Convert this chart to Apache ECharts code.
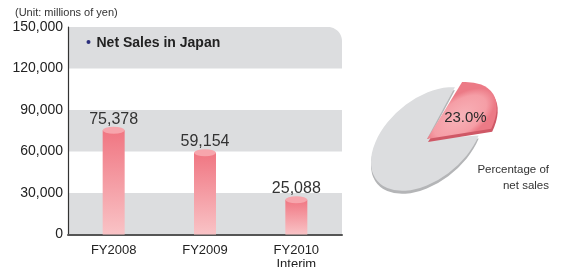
<!DOCTYPE html>
<html>
<head>
<meta charset="utf-8">
<script src="https://cdn.jsdelivr.net/npm/echarts@6/dist/echarts.min.js"></script>
<style>
html, body { margin: 0; padding: 0; background: #fff; }
#main { width: 561px; height: 267px; }
</style>
</head>
<body>
<div id="main"></div>
<script>
var categories = ['FY2008', 'FY2009', 'FY2010\nInterim'];
var salesJapan = [75378, 59154, 25088];
var yTicks = [0, 30000, 60000, 90000, 120000, 150000];
var pieNames = ['Other', 'Japan'];
var pieShares = [77.0, 23.0];

var FONT = '"Liberation Sans", Arial, sans-serif';

// pie geometry (tilted ellipse); the Japan slice is raised so it uses its own frame
var pieCx = 427, pieCy = 139;
var pieStart = 50 * Math.PI / 180;
var baseFrame = { r: 65, flat: 40 / 65, tilt: 40 * Math.PI / 180, shift: 0 };
var hotFrame = { r: 80, flat: 41.5 / 80, tilt: 35 * Math.PI / 180, shift: -7 * Math.PI / 180 };

function fmt(v) {
    return String(v).replace(/\B(?=(\d{3})+(?!\d))/g, ',');
}

// white mask for rounded top-right corner of plot area
function cornerMask(x, y, rad) {
    var pts = [[x - rad, y - 1], [x + 1, y - 1], [x + 1, y + rad]];
    for (var k = 0; k <= 12; k++) {
        var a = -k / 12 * Math.PI / 2;
        pts.push([x - rad + Math.cos(a) * rad, y + rad + Math.sin(a) * rad]);
    }
    return pts;
}

function renderPie(params, api) {
    var idx = params.dataIndex;
    var total = 0, acc = 0;
    for (var i = 0; i < pieShares.length; i++) {
        total += pieShares[i];
        if (i < idx) acc += pieShares[i];
    }
    var hot = pieNames[idx] === 'Japan';
    var f = hot ? hotFrame : baseFrame;
    var a0 = pieStart + acc / total * Math.PI * 2 + f.shift;
    var a1 = a0 + pieShares[idx] / total * Math.PI * 2;

    function layer(dx, dy, fill) {
        return {
            type: 'group',
            x: pieCx + dx, y: pieCy + dy,
            rotation: f.tilt, scaleY: f.flat,
            children: [{
                type: 'sector',
                shape: { cx: 0, cy: 0, r0: 0, r: f.r, startAngle: a0, endAngle: a1, clockwise: true },
                style: { fill: fill }
            }]
        };
    }

    var kids = [];
    if (hot) {
        kids.push(layer(1, 3, '#cf5866'));
        kids.push(layer(0, 0, new echarts.graphic.RadialGradient(0.5, 0.5, 0.5, [
            { offset: 0, color: '#f8b2b8' },
            { offset: 0.75, color: '#f59ea6' },
            { offset: 1, color: '#ec7a86' }
        ])));
        var m = (a0 + a1) / 2;
        var lx = Math.cos(m) * f.r * 0.55, ly = Math.sin(m) * f.r * 0.55 * f.flat;
        var sx = pieCx + lx * Math.cos(f.tilt) + ly * Math.sin(f.tilt);
        var sy = pieCy - lx * Math.sin(f.tilt) + ly * Math.cos(f.tilt);
        kids.push({
            type: 'text', x: sx + 2, y: sy + 4,
            style: {
                text: pieShares[idx].toFixed(1) + '%',
                fontSize: 15, fontFamily: FONT, fill: '#2a2a2a',
                textAlign: 'center', textVerticalAlign: 'middle'
            }
        });
    } else {
        kids.push(layer(0, 3, '#b4b5b7'));
        kids.push(layer(0, 0, '#dcdddf'));
    }
    return { type: 'group', children: kids };
}

var chart = echarts.init(document.getElementById('main'));
var option = {
    animation: false,
    textStyle: { fontFamily: FONT },
    title: [{
        text: '(Unit: millions of yen)',
        left: 15, top: 7, padding: 0,
        textStyle: { fontSize: 11, fontWeight: 'normal', color: '#333', fontFamily: FONT }
    }],
    grid: { left: 68, right: 219, top: 27, bottom: 32.5, containLabel: false, outerBoundsMode: 'none' },
    xAxis: {
        type: 'category',
        data: categories,
        axisLine: { show: true, lineStyle: { color: '#555', width: 2 } },
        axisTick: { show: false },
        axisLabel: { color: '#222', fontSize: 13, margin: 9, lineHeight: 14, fontFamily: FONT }
    },
    yAxis: {
        type: 'value',
        min: yTicks[0],
        max: yTicks[yTicks.length - 1],
        interval: yTicks[1] - yTicks[0],
        axisLine: { show: true, lineStyle: { color: '#333', width: 1.2 } },
        axisTick: { show: false },
        splitLine: { show: false },
        splitArea: { show: true, areaStyle: { color: ['#dcdddf', '#ffffff'] } },
        axisLabel: {
            color: '#222', fontSize: 14, margin: 5, fontFamily: FONT,
            formatter: function (v) { return fmt(v); }
        }
    },
    graphic: [
        {
            type: 'polygon', z: 100,
            shape: { points: cornerMask(342, 27, 14) },
            style: { fill: '#ffffff' }
        },
        { type: 'circle', z: 100, shape: { cx: 88.5, cy: 42, r: 2 }, style: { fill: '#2b2f7c' } },
        {
            type: 'text', z: 100, x: 96.5, y: 43,
            style: { text: 'Net Sales in Japan', fontSize: 14, fontWeight: 'bold', fontFamily: FONT, fill: '#222', textVerticalAlign: 'middle' }
        },
        {
            type: 'text', z: 100, x: 549, y: 162,
            style: { text: 'Percentage of\nnet sales', fontSize: 11.5, lineHeight: 15.7, fontFamily: FONT, fill: '#333', textAlign: 'right', textVerticalAlign: 'top' }
        }
    ],
    series: [
        {
            type: 'bar',
            data: salesJapan,
            barWidth: 22,
            itemStyle: {
                color: new echarts.graphic.LinearGradient(0, 0, 0, 1, [
                    { offset: 0, color: '#f07682' },
                    { offset: 1, color: '#f9c3c6' }
                ])
            },
            label: {
                show: true, position: 'top', distance: 3,
                color: '#333', fontSize: 16, fontFamily: FONT,
                formatter: function (p) { return fmt(p.value); }
            },
            z: 2
        },
        {
            type: 'pictorialBar',
            data: salesJapan,
            symbol: 'circle',
            symbolSize: [22, 7],
            symbolPosition: 'end',
            symbolOffset: [0, '-50%'],
            itemStyle: { color: '#f7a5ac' },
            z: 3
        },
        {
            type: 'custom',
            coordinateSystem: 'none',
            data: pieShares,
            renderItem: renderPie,
            z: 5
        }
    ]
};
chart.setOption(option);
</script>
</body>
</html>
